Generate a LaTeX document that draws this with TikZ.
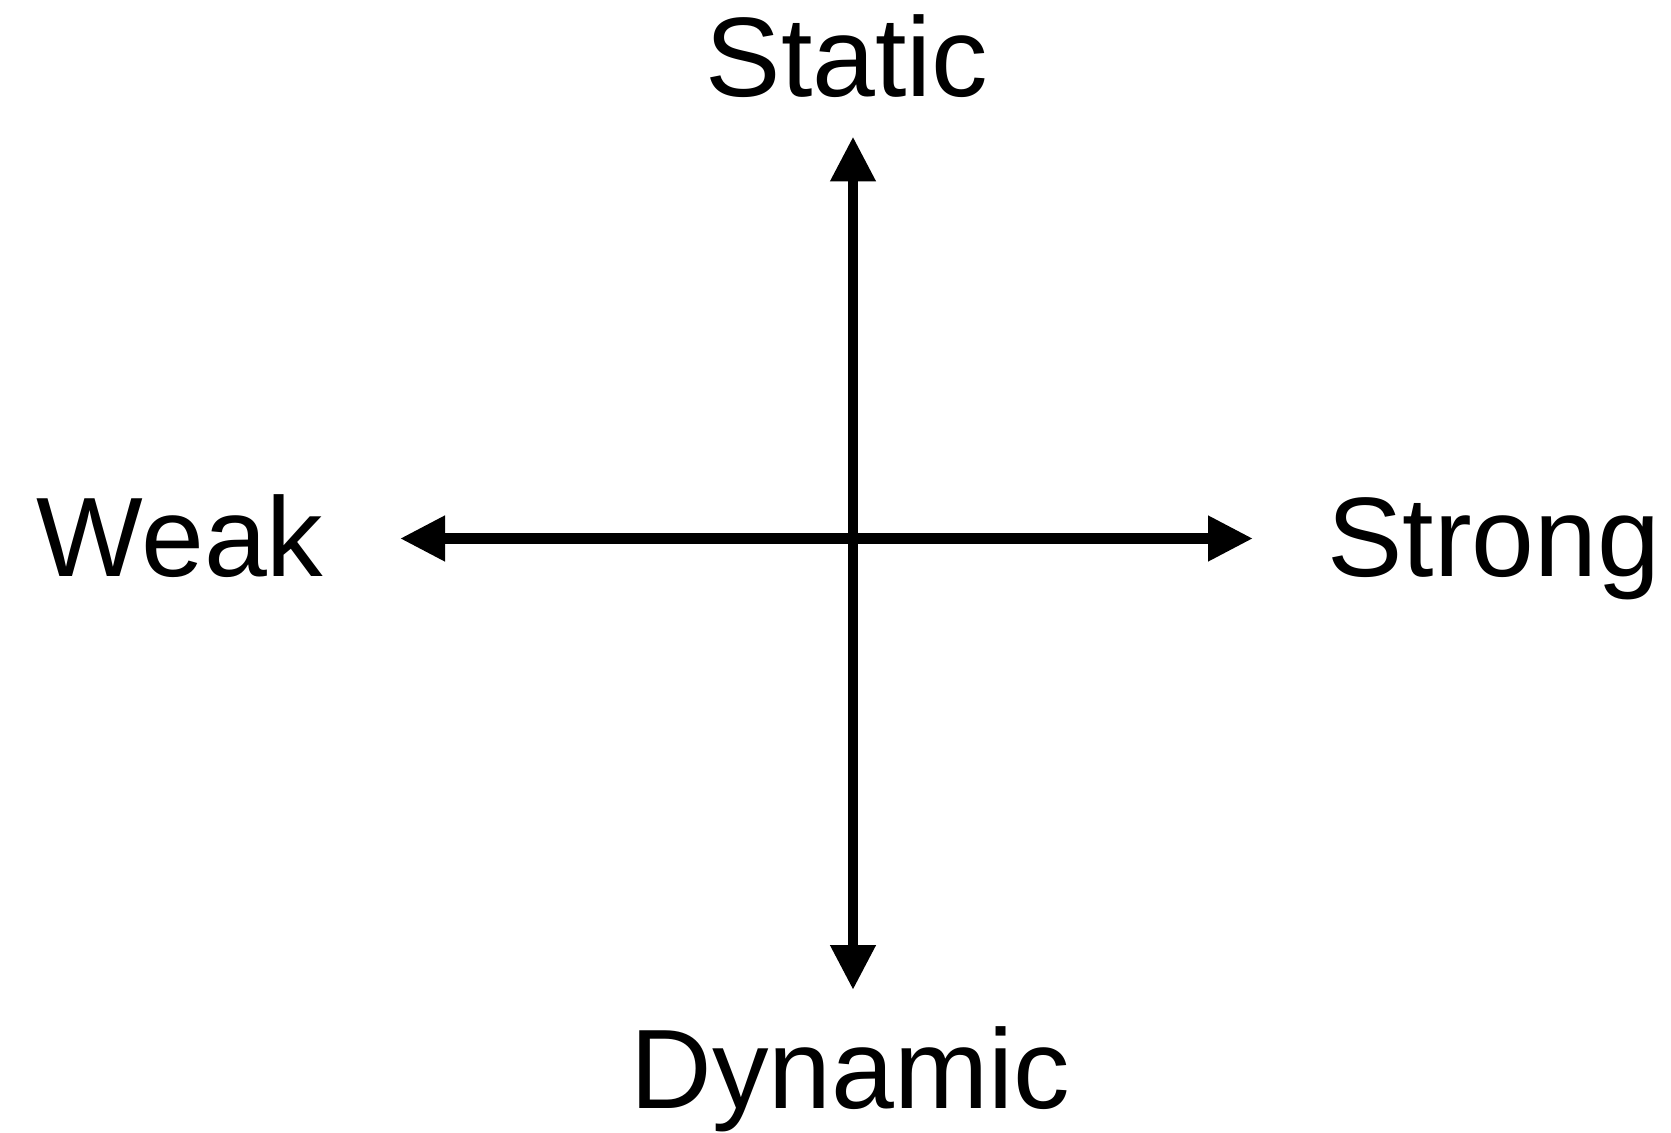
\documentclass[tikz,border=0pt]{standalone}
\usepackage{fontspec}
\setmainfont{Liberation Sans}
\usetikzlibrary{arrows.meta}

\begin{document}
\begin{tikzpicture}[x=0.5pt, y=-0.5pt, >={Triangle[length=22.5pt, width=21.5pt]}, lbl/.style={anchor=base, inner sep=0pt, font=\fontsize{56.5pt}{68pt}\selectfont}, ax/.style={<->, line width=5.3pt}]
	\useasboundingbox (0,0) rectangle (1671,1133);
	\coordinate (up) at (853,136.5);
	\coordinate (down) at (853,990);
	\coordinate (left) at (400,538.5);
	\coordinate (right) at (1253,538.5);
	\node[lbl] (static) at (847,97) {Static};
	\node[lbl] (dynamic) at (850.5,1108) {Dynamic};
	\node[lbl] (weak) at (180,576.6) {Weak};
	\node[lbl] (strong) at (1494,576.6) {Strong};
	\draw[ax] (up) -- (down);
	\draw[ax] (left) -- (right);
\end{tikzpicture}
\end{document}
